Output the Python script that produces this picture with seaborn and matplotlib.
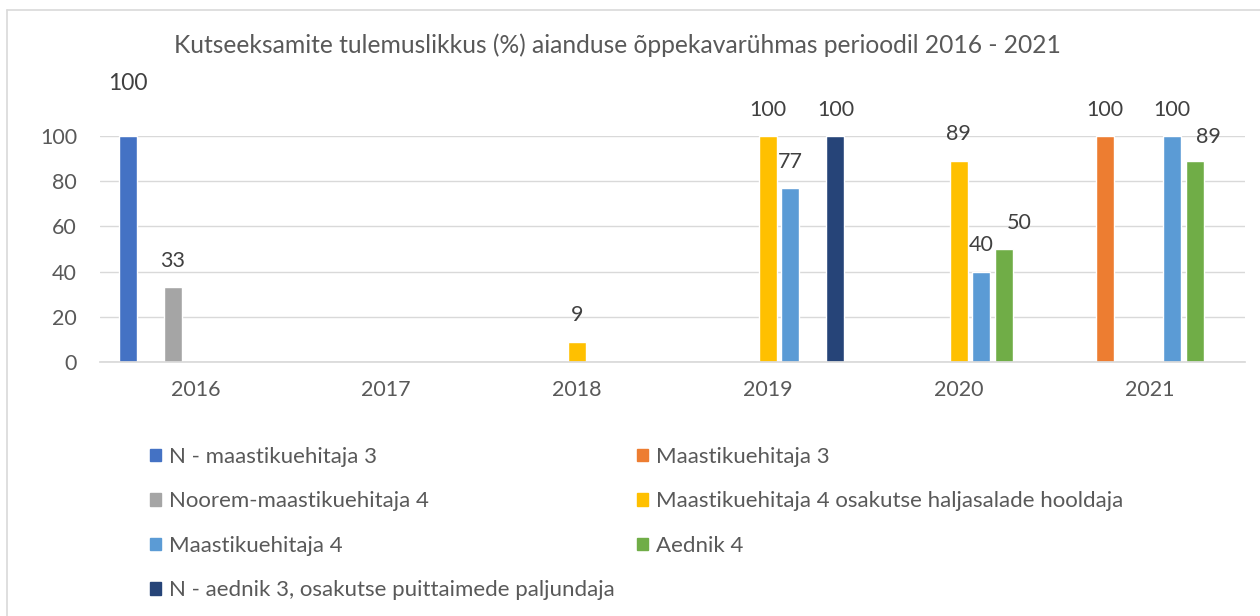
import numpy as np
import pandas as pd
import seaborn as sns
import matplotlib.pyplot as plt
from matplotlib.lines import Line2D
from matplotlib.patches import Patch

# data (NaN = no exam that year)
years = ["2016", "2017", "2018", "2019", "2020", "2021"]
series = [
    "N - maastikuehitaja 3",
    "Maastikuehitaja 3",
    "Noorem-maastikuehitaja 4",
    "Maastikuehitaja 4 osakutse haljasalade hooldaja",
    "Maastikuehitaja 4",
    "Aednik 4",
    "N - aednik 3, osakutse puittaimede paljundaja",
]
n_maastik3 = [100, np.nan, np.nan, np.nan, np.nan, np.nan]
maastik3 = [np.nan, np.nan, np.nan, np.nan, np.nan, 100]
noorem4 = [33, np.nan, np.nan, np.nan, np.nan, np.nan]
haljasala = [np.nan, np.nan, 9, 100, 89, np.nan]
maastik4 = [np.nan, np.nan, np.nan, 77, 40, 100]
aednik4 = [np.nan, np.nan, np.nan, np.nan, 50, 89]
n_aednik3 = [np.nan, np.nan, np.nan, 100, np.nan, np.nan]
colors = ["#4472C4", "#ED7D31", "#A5A5A5", "#FFC000", "#5B9BD5", "#70AD47", "#264478"]

title = "Kutseeksamite tulemuslikkus (%) aianduse õppekavarühmas perioodil 2016 - 2021"

values = [n_maastik3, maastik3, noorem4, haljasala, maastik4, aednik4, n_aednik3]
df = pd.DataFrame({
    "aasta": years * len(series),
    "kutse": [s for s in series for _ in years],
    "tulemus": [v for vals in values for v in vals],
})

sns.set_theme(style="white")
plt.rcParams["font.family"] = ["Lato", "DejaVu Sans"]
txt = "#595959"

fig = plt.figure(figsize=(12.6, 6.16), dpi=100)
ax = fig.add_axes([100 / 1260, 1 - 362 / 616, 1145 / 1260, 226 / 616])

sns.barplot(data=df, x="aasta", y="tulemus", hue="kutse", order=years,
            hue_order=series, palette=colors, width=0.825, gap=0.2,
            saturation=1, ax=ax, legend=False)

ax.set_xlim(-0.5, len(years) - 0.5)
ax.set_ylim(0, 100)
ax.set_yticks(range(0, 101, 20))
ax.yaxis.grid(True, color="#d9d9d9", lw=1)
ax.set_axisbelow(True)
for s in ["top", "right", "left"]:
    ax.spines[s].set_visible(False)
ax.spines["bottom"].set_color("#d9d9d9")
ax.tick_params(axis="both", length=0, labelsize=15.5, labelcolor=txt)
ax.tick_params(axis="x", pad=13)
ax.tick_params(axis="y", pad=16.5)
ax.set_xlabel("")
ax.set_ylabel("")

# value labels; a few are nudged like in the original
nudge = {(0, 0): (0, 38), (4, 5): (11, 19), (5, 5): (10, 17)}
for si, cont in enumerate(ax.containers):
    for bar in cont:
        h = bar.get_height()
        if np.isnan(h):
            continue
        xc = bar.get_x() + bar.get_width() / 2
        yi = int(round(xc))
        dx, dy = nudge.get((yi, si), (0, 19))
        ax.annotate(f"{h:.0f}", (xc, h), xytext=(dx, dy), textcoords="offset points",
                    ha="center", va="center", fontsize=16.5 if (yi, si) == (0, 0) else 15.5,
                    color="#404040", annotation_clip=False)

fig.text(617 / 1260, 1 - 45 / 616, title, ha="center", va="center",
         fontsize=17.7, color=txt)

# legend in two columns, filled row by row
handles = [Patch(color=c) for c in colors]
leg_kw = dict(loc="upper left", frameon=False, fontsize=16, labelcolor=txt,
              handlelength=0.5, handleheight=0.5, handletextpad=0.35,
              borderpad=0, borderaxespad=0, labelspacing=1.1)
fig.legend(handles[0::2], series[0::2], bbox_to_anchor=(150 / 1260, 1 - 447 / 616), **leg_kw)
fig.legend(handles[1::2], series[1::2], bbox_to_anchor=(637 / 1260, 1 - 447 / 616), **leg_kw)

# light frame of the chart area
fig.add_artist(Line2D([7 / 1260, 7 / 1260], [0, 1 - 10 / 616], color="#d9d9d9", lw=1.2))
fig.add_artist(Line2D([7 / 1260, 1], [1 - 10 / 616, 1 - 10 / 616], color="#d9d9d9", lw=1.2))

fig.savefig("out.png", dpi=100)
